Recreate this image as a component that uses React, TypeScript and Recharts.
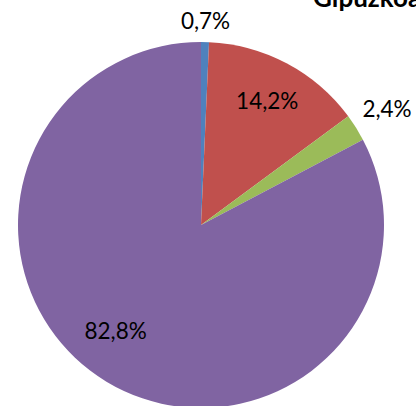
import React from 'react';
import { PieChart, Pie, Cell } from 'recharts';

const categories = ['A', 'B', 'C', 'D'];
const shares = [0.7, 14.2, 2.4, 82.8];
const labels = ['0,7%', '14,2%', '2,4%', '82,8%'];
const title = 'Gipuzkoa';

const colors = ['#4F81BD', '#C0504D', '#9BBB59', '#8064A2'];

// label radius as a factor of the outer radius, plus a small angle nudge (deg)
const labelPlacement = [
    { r: 1.12, shift: 0 },
    { r: 0.77, shift: 0 },
    { r: 1.2, shift: 0 },
    { r: 0.74, shift: -8 },
];

const data = categories.map((name, i) => ({ name, value: shares[i], label: labels[i] }));

const RAD = Math.PI / 180;
const FONT = "Lato, 'Noto Sans', sans-serif";

const renderLabel = (props: any) => {
    const { cx, cy, midAngle, outerRadius, index } = props;
    const p = labelPlacement[index];
    const a = (midAngle + p.shift) * RAD;
    const x = cx + outerRadius * p.r * Math.cos(a);
    const y = cy - outerRadius * p.r * Math.sin(a);
    return (
        <text
            x={x}
            y={y}
            textAnchor="middle"
            dominantBaseline="central"
            fill="#000"
            fontSize={22.5}
            fontFamily={FONT}
        >
            {data[index].label}
        </text>
    );
};

const App = () => {
    return (
        <div style={{ position: 'absolute', left: 0, top: 0, width: 416, height: 406, background: '#fff' }}>
            <PieChart width={416} height={406} margin={{ top: 0, right: 0, left: 0, bottom: 0 }}>
                <text x={313} y={7} fontSize={26} fontWeight="bold" fontFamily={FONT} fill="#000">
                    {title}
                </text>
                <Pie
                    data={data}
                    dataKey="value"
                    cx={201}
                    cy={225}
                    outerRadius={183}
                    startAngle={90}
                    endAngle={-270}
                    stroke="none"
                    label={renderLabel}
                    labelLine={false}
                    isAnimationActive={false}
                >
                    {data.map((entry, index) => (
                        <Cell key={`cell-${index}`} fill={colors[index]} />
                    ))}
                </Pie>
            </PieChart>
        </div>
    );
};

export default App;
